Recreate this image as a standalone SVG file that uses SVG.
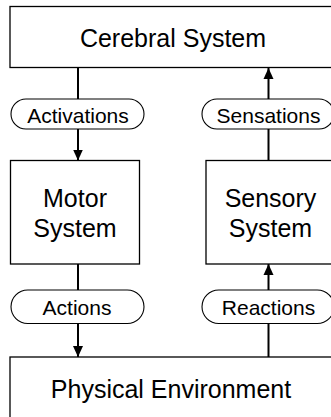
<svg xmlns="http://www.w3.org/2000/svg" width="331" height="417" viewBox="0 0 331 417">
<style>
.box{fill:#fff;stroke:#000;stroke-width:1.3}
.pill{fill:#fff;stroke:#000;stroke-width:1.1}
.big{font-family:"Liberation Sans",Arial,sans-serif;font-size:25px;fill:#000;text-anchor:middle}
.small{font-family:"Liberation Sans",Arial,sans-serif;font-size:21px;fill:#000;text-anchor:middle}
.conn{stroke:#000;stroke-width:2;fill:none}
</style>
<defs>
<marker id="arr" markerUnits="userSpaceOnUse" markerWidth="12" markerHeight="12" viewBox="0 0 12 12" refX="11" refY="6" orient="auto">
<path d="M0,1 L11,6 L0,11 Z" fill="#000"/>
</marker>
</defs>
<g id="connectors">
<line class="conn" x1="78" y1="68" x2="78" y2="99"/>
<line class="conn" x1="78" y1="129" x2="78" y2="160.5" marker-end="url(#arr)"/>
<line class="conn" x1="78" y1="264" x2="78" y2="290"/>
<line class="conn" x1="78" y1="324" x2="78" y2="357" marker-end="url(#arr)"/>
<line class="conn" x1="268.5" y1="357" x2="268.5" y2="324"/>
<line class="conn" x1="268.5" y1="290" x2="268.5" y2="264" marker-end="url(#arr)"/>
<line class="conn" x1="268.5" y1="161" x2="268.5" y2="129"/>
<line class="conn" x1="268.5" y1="99" x2="268.5" y2="68" marker-end="url(#arr)"/>
</g>
<g id="cerebral">
<rect class="box" x="10" y="6.5" width="326" height="61"/>
<text class="big" x="173" y="47">Cerebral System</text>
</g>
<g id="activations">
<rect class="pill" x="11" y="99" width="133" height="30" rx="15"/>
<text class="small" x="78" y="122.5">Activations</text>
</g>
<g id="sensations">
<rect class="pill" x="202" y="99" width="132" height="30" rx="15"/>
<text class="small" x="268.5" y="122.5">Sensations</text>
</g>
<g id="motor">
<rect class="box" x="10.5" y="160.5" width="129" height="103.5"/>
<text class="big" x="75" y="207">Motor</text>
<text class="big" x="75" y="237">System</text>
</g>
<g id="sensory">
<rect class="box" x="206" y="160.5" width="129" height="103.5"/>
<text class="big" x="270.5" y="207">Sensory</text>
<text class="big" x="270.5" y="237">System</text>
</g>
<g id="actions">
<rect class="pill" x="11" y="290" width="133" height="33.5" rx="16.75"/>
<text class="small" x="77" y="315">Actions</text>
</g>
<g id="reactions">
<rect class="pill" x="202" y="290" width="132" height="33.5" rx="16.75"/>
<text class="small" x="268.5" y="315">Reactions</text>
</g>
<g id="physical">
<rect class="box" x="10" y="357" width="326" height="62"/>
<text class="big" x="171" y="398">Physical Environment</text>
</g>
</svg>
